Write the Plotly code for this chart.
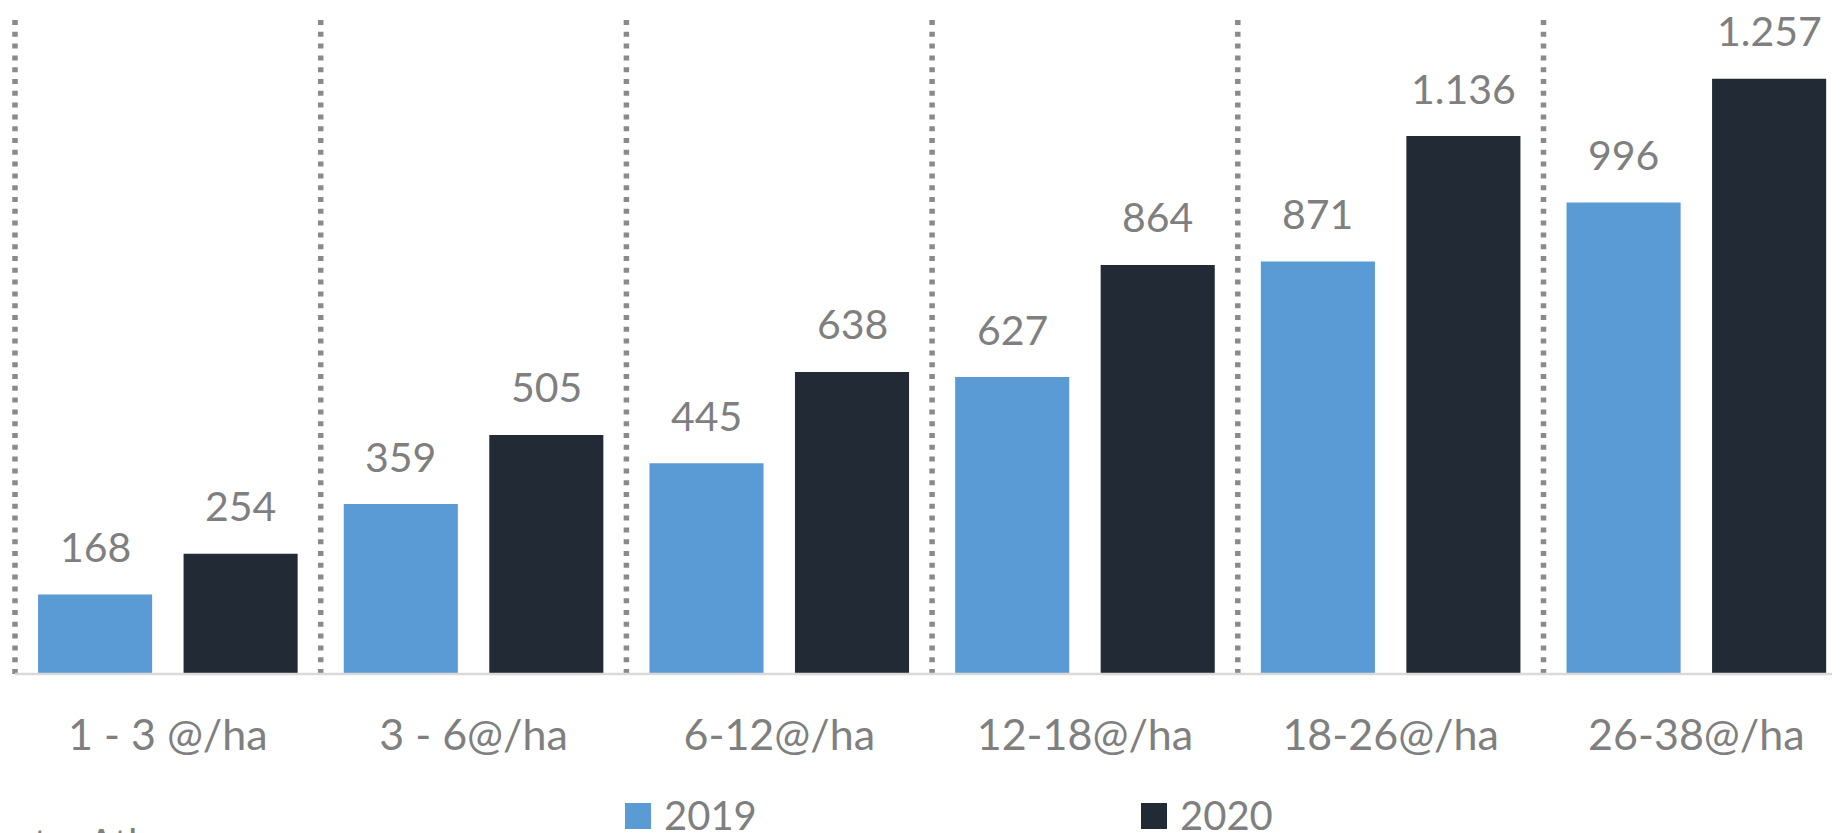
import plotly.graph_objects as go

# data
categories = ["1 - 3 @/ha", "3 - 6@/ha", "6-12@/ha", "12-18@/ha", "18-26@/ha", "26-38@/ha"]
series_names = ["2019", "2020"]
values_2019 = [168, 359, 445, 627, 871, 996]
values_2020 = [254, 505, 638, 864, 1136, 1257]
source_note = "Fonte: Atlas"

colors = ["#5B9BD5", "#222A35"]
text_gray = "#7F7F7F"
font_family = "Lato, 'Noto Sans', sans-serif"

# the page body adds an 8px margin, so the figure is drawn 8px smaller
# and every screen position below is given minus that offset
OFF = 8
W, H = 1840 - OFF, 833 - OFF
m_l, m_r, m_t, m_b = 0, 0, 14 - OFF, 833 - 674
plot_w, plot_h = W - m_l - m_r, H - m_t - m_b

cat_w = 305.7          # px per category
x_start = -0.5 - (15 - OFF) / cat_w
x_range = [x_start, x_start + plot_w / cat_w]
y_range = [0, plot_h / 0.4735]
bargap, bargroupgap = 0.048, 0.216


def px_x(sx):
    return (sx - OFF - m_l) / plot_w


def px_y(sy):
    return (H - m_b - (sy - OFF)) / plot_h


fig = go.Figure()
all_values = [values_2019, values_2020]
for name, vals, col in zip(series_names, all_values, colors):
    fig.add_trace(go.Bar(x=categories, y=vals, name=name, marker_color=col,
                         marker_line_width=0, showlegend=False))

# value labels above bars
slot = (1 - bargap) * cat_w / len(series_names)
for k, vals in enumerate(all_values):
    shift = (k - (len(series_names) - 1) / 2) * slot
    for c, v in zip(categories, vals):
        fig.add_annotation(x=c, y=v, text=f"{v:,}".replace(",", "."),
                           showarrow=False, xshift=shift, yshift=48,
                           yanchor="middle",
                           font=dict(size=41, color=text_gray, family=font_family))

# dotted separators between categories
for i in range(len(categories)):
    fig.add_shape(type="line", xref="x", yref="paper", x0=i - 0.5, x1=i - 0.5,
                  y0=0, y1=1, layer="below",
                  line=dict(color="#8A8A8A", width=5.5, dash="5px,6.8px"))

# base line
fig.add_shape(type="line", xref="x", yref="paper", x0=-0.5, x1=len(categories),
              y0=0, y1=0, line=dict(color="#D9D9D9", width=2.5))

# legend drawn by hand (large square swatches)
legend_x = [625, 1141]
for name, col, lx in zip(series_names, colors, legend_x):
    fig.add_shape(type="rect", xref="paper", yref="paper",
                  x0=px_x(lx), x1=px_x(lx + 26), y0=px_y(803), y1=px_y(829),
                  fillcolor=col, line_width=0)
    fig.add_annotation(xref="paper", yref="paper", x=px_x(lx + 37), y=px_y(815),
                       xanchor="left", yanchor="middle", text=name, showarrow=False,
                       font=dict(size=40, color=text_gray, family=font_family))

# source note, cut off at the bottom edge
fig.add_annotation(xref="paper", yref="paper", x=px_x(-34), y=px_y(817),
                   xanchor="left", yanchor="top", text=source_note, showarrow=False,
                   font=dict(size=40, color=text_gray, family=font_family))

fig.update_layout(
    width=W, height=H,
    margin=dict(l=m_l, r=m_r, t=m_t, b=m_b),
    barmode="group", bargap=bargap, bargroupgap=bargroupgap,
    plot_bgcolor="white", paper_bgcolor="white",
    separators=",.",
    xaxis=dict(range=x_range, showgrid=False, zeroline=False, showline=False,
               ticks="", ticklabelstandoff=32, automargin=False,
               tickfont=dict(size=43, color=text_gray, family=font_family)),
    yaxis=dict(range=y_range, visible=False, showgrid=False, zeroline=False),
)

fig.write_html("out.html")
